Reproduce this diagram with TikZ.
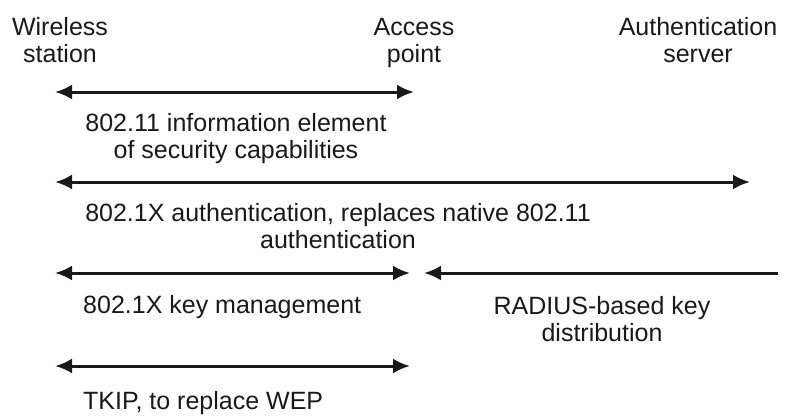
\documentclass[tikz,border=0pt]{standalone}
\usepackage{fontspec}
\setmainfont{Liberation Sans}
\usetikzlibrary{arrows.meta}
\begin{document}
\begin{tikzpicture}[x=1pt,y=-1pt,
  lbl/.style={font=\fontsize{25}{27}\selectfont, text=black!90, inner sep=0pt, align=center, anchor=base},
  lbll/.style={font=\fontsize{25}{27}\selectfont, text=black!90, inner sep=0pt, anchor=base west},
  dbl/.style={line width=3pt, draw=black!90, {Latex[length=17pt,width=15pt]}-{Latex[length=17pt,width=15pt]}},
  sgl/.style={line width=3pt, draw=black!90, -{Latex[length=17pt,width=15pt]}}]
\useasboundingbox (0,0) rectangle (786,415);
% headers
\node[lbl] (ws) at (60,62) {Wireless\\station};
\node[lbl] (ap) at (414,62) {Access\\point};
\node[lbl] (as) at (698,62) {Authentication\\server};
% arrow endpoints
\coordinate (a1l) at (55,92);  \coordinate (a1r) at (414,92);
\coordinate (a2l) at (55,182); \coordinate (a2r) at (750,182);
\coordinate (a3l) at (55,273); \coordinate (a3r) at (410,273);
\coordinate (a4s) at (778,273); \coordinate (a4e) at (424,273);
\coordinate (a5l) at (55,366); \coordinate (a5r) at (410,366);
% arrows
\draw[dbl] (a1l) -- (a1r);
\draw[dbl] (a2l) -- (a2r);
\draw[dbl] (a3l) -- (a3r);
\draw[sgl] (a4s) -- (a4e);
\draw[dbl] (a5l) -- (a5r);
% labels
\node[lbl] (t1) at (236,158) {802.11 information element\\of security capabilities};
\node[lbl] (t2) at (338,248) {802.1X authentication, replaces native 802.11\\authentication};
\node[lbll] (t3) at (83,313) {802.1X key management};
\node[lbl] (t4) at (602,341) {RADIUS-based key\\distribution};
\node[lbll] (t5) at (83,409) {TKIP, to replace WEP};
\end{tikzpicture}
\end{document}
